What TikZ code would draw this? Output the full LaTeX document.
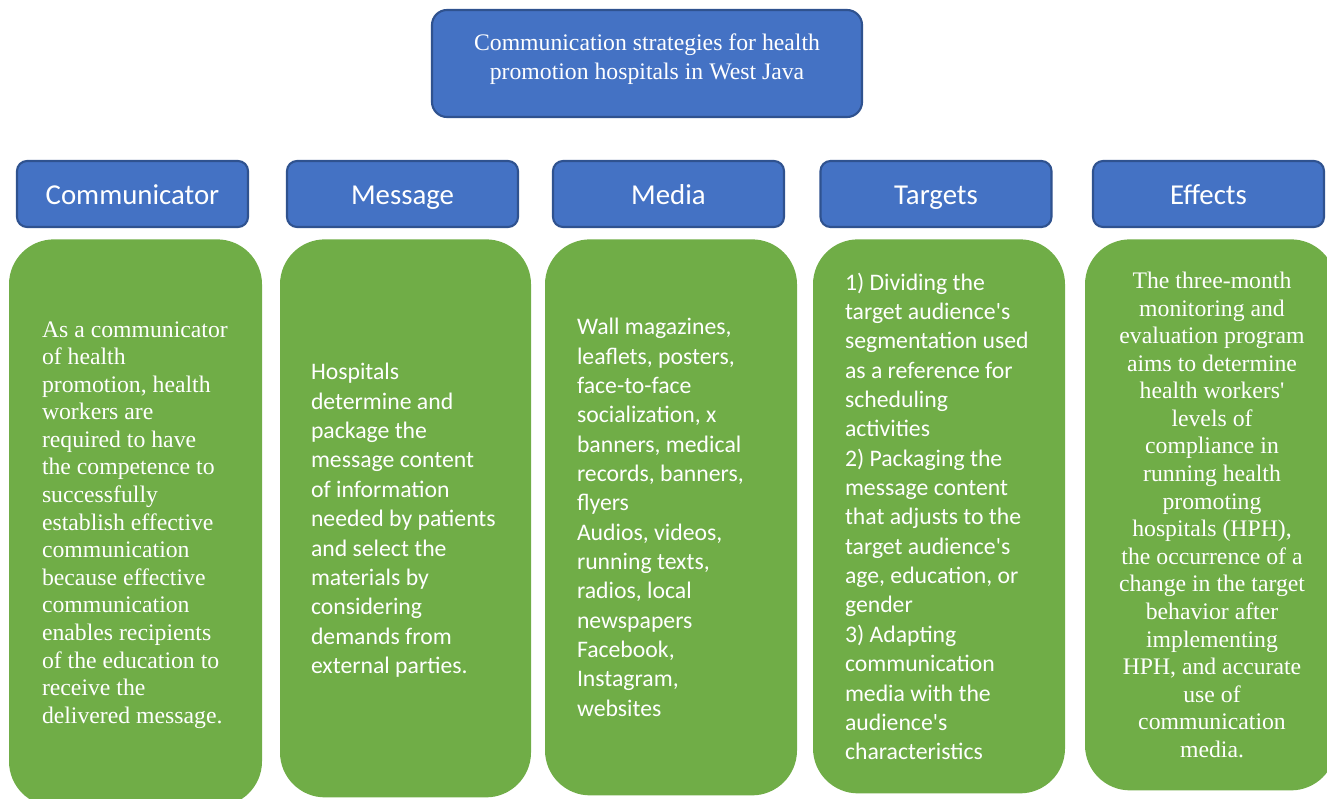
\documentclass[tikz,border=0pt]{standalone}
\usepackage{fontspec}
\setmainfont{Liberation Serif}
\newfontfamily\calibri{Carlito}
\usetikzlibrary{positioning}

\definecolor{hdrblue}{HTML}{4472C4}
\definecolor{hdrline}{HTML}{2F528F}
\definecolor{bodygreen}{HTML}{70AD47}

\tikzset{
	titlebox/.style={draw=hdrline, line width=1.2pt, fill=hdrblue, rounded corners=0.3cm,
		minimum width=8.6cm, minimum height=2.14cm, text=white, align=center, text depth=7.5pt,
		font=\fontsize{13.5}{16.4}\selectfont},
	headbox/.style={draw=hdrline, line width=1.2pt, fill=hdrblue, rounded corners=0.2cm,
		minimum width=4.62cm, minimum height=1.32cm, text=white, text height=12.4pt, text depth=0pt,
		font=\calibri\fontsize{16.4}{19}\selectfont},
	bodybox/.style={fill=bodygreen, rounded corners=0.9cm, anchor=north},
	serifbody/.style={text=white, inner sep=0pt, font=\fontsize{13.5}{15.7}\selectfont},
	sansbody/.style={text=white, inner sep=0pt, align=left, font=\calibri\fontsize{13.5}{16.7}\selectfont}
}

\begin{document}
\begin{tikzpicture}
	\useasboundingbox (0,0) rectangle (26.54,-15.96);

	% Заголовок
	\node[titlebox] (title) at (12.94,-1.27) {Communication strategies for health\\promotion hospitals in West Java};

	% Шапки колонок
	\node[headbox] (commhead) at (2.65,-3.88) {Communicator};
	\node[headbox] (msghead) at (8.05,-3.88) {Message};
	\node[headbox] (mediahead) at (13.37,-3.88) {Media};
	\node[headbox] (targhead) at (18.72,-3.88) {Targets};
	\node[headbox] (effhead) at (24.17,-3.88) {Effects};

	% Зелёные блоки
	\node[bodybox, minimum width=5.06cm, minimum height=11.34cm] (commbody) at (2.71,-4.78) {};
	\node[bodybox, minimum width=5.02cm, minimum height=11.16cm] (msgbody) at (8.11,-4.78) {};
	\node[bodybox, minimum width=5.04cm, minimum height=11.12cm] (mediabody) at (13.42,-4.78) {};
	\node[bodybox, minimum width=5.04cm, minimum height=11.08cm] (targbody) at (18.78,-4.78) {};
	\node[bodybox, minimum width=5.02cm, minimum height=11.02cm] (effbody) at (24.21,-4.78) {};

	% Тексты
	\node[serifbody, align=left, anchor=west] (commtext) at ([xshift=0.66cm,yshift=-0.04cm]commbody.west)
		{As a communicator\\of health\\promotion, health\\workers are\\required to have\\the competence to\\successfully\\establish effective\\communication\\because effective\\communication\\enables recipients\\of the education to\\receive the\\delivered message.};
	\node[sansbody, anchor=west] (msgtext) at ([xshift=0.62cm,yshift=-0.04cm]msgbody.west)
		{Hospitals\\determine and\\package the\\message content\\of information\\needed by patients\\and select the\\materials by\\considering\\demands from\\external parties.};
	\node[sansbody, anchor=west] (mediatext) at ([xshift=0.64cm]mediabody.west)
		{Wall magazines,\\leaflets, posters,\\face-to-face\\socialization, x\\banners, medical\\records, banners,\\flyers\\Audios, videos,\\running texts,\\radios, local\\newspapers\\Facebook,\\Instagram,\\websites};
	\node[sansbody, anchor=west] (targtext) at ([xshift=0.64cm]targbody.west)
		{1) Dividing the\\target audience's\\segmentation used\\as a reference for\\scheduling\\activities\\2) Packaging the\\message content\\that adjusts to the\\target audience's\\age, education, or\\gender\\3) Adapting\\communication\\media with the\\audience's\\characteristics};
	\node[serifbody, align=center] (efftext) at ([xshift=0.03cm]effbody.center)
		{The three-month\\monitoring and\\evaluation program\\aims to determine\\health workers\textquotesingle\\levels of\\compliance in\\running health\\promoting\\hospitals (HPH),\\the occurrence of a\\change in the target\\behavior after\\implementing\\HPH, and accurate\\use of\\communication\\media.};
\end{tikzpicture}
\end{document}
